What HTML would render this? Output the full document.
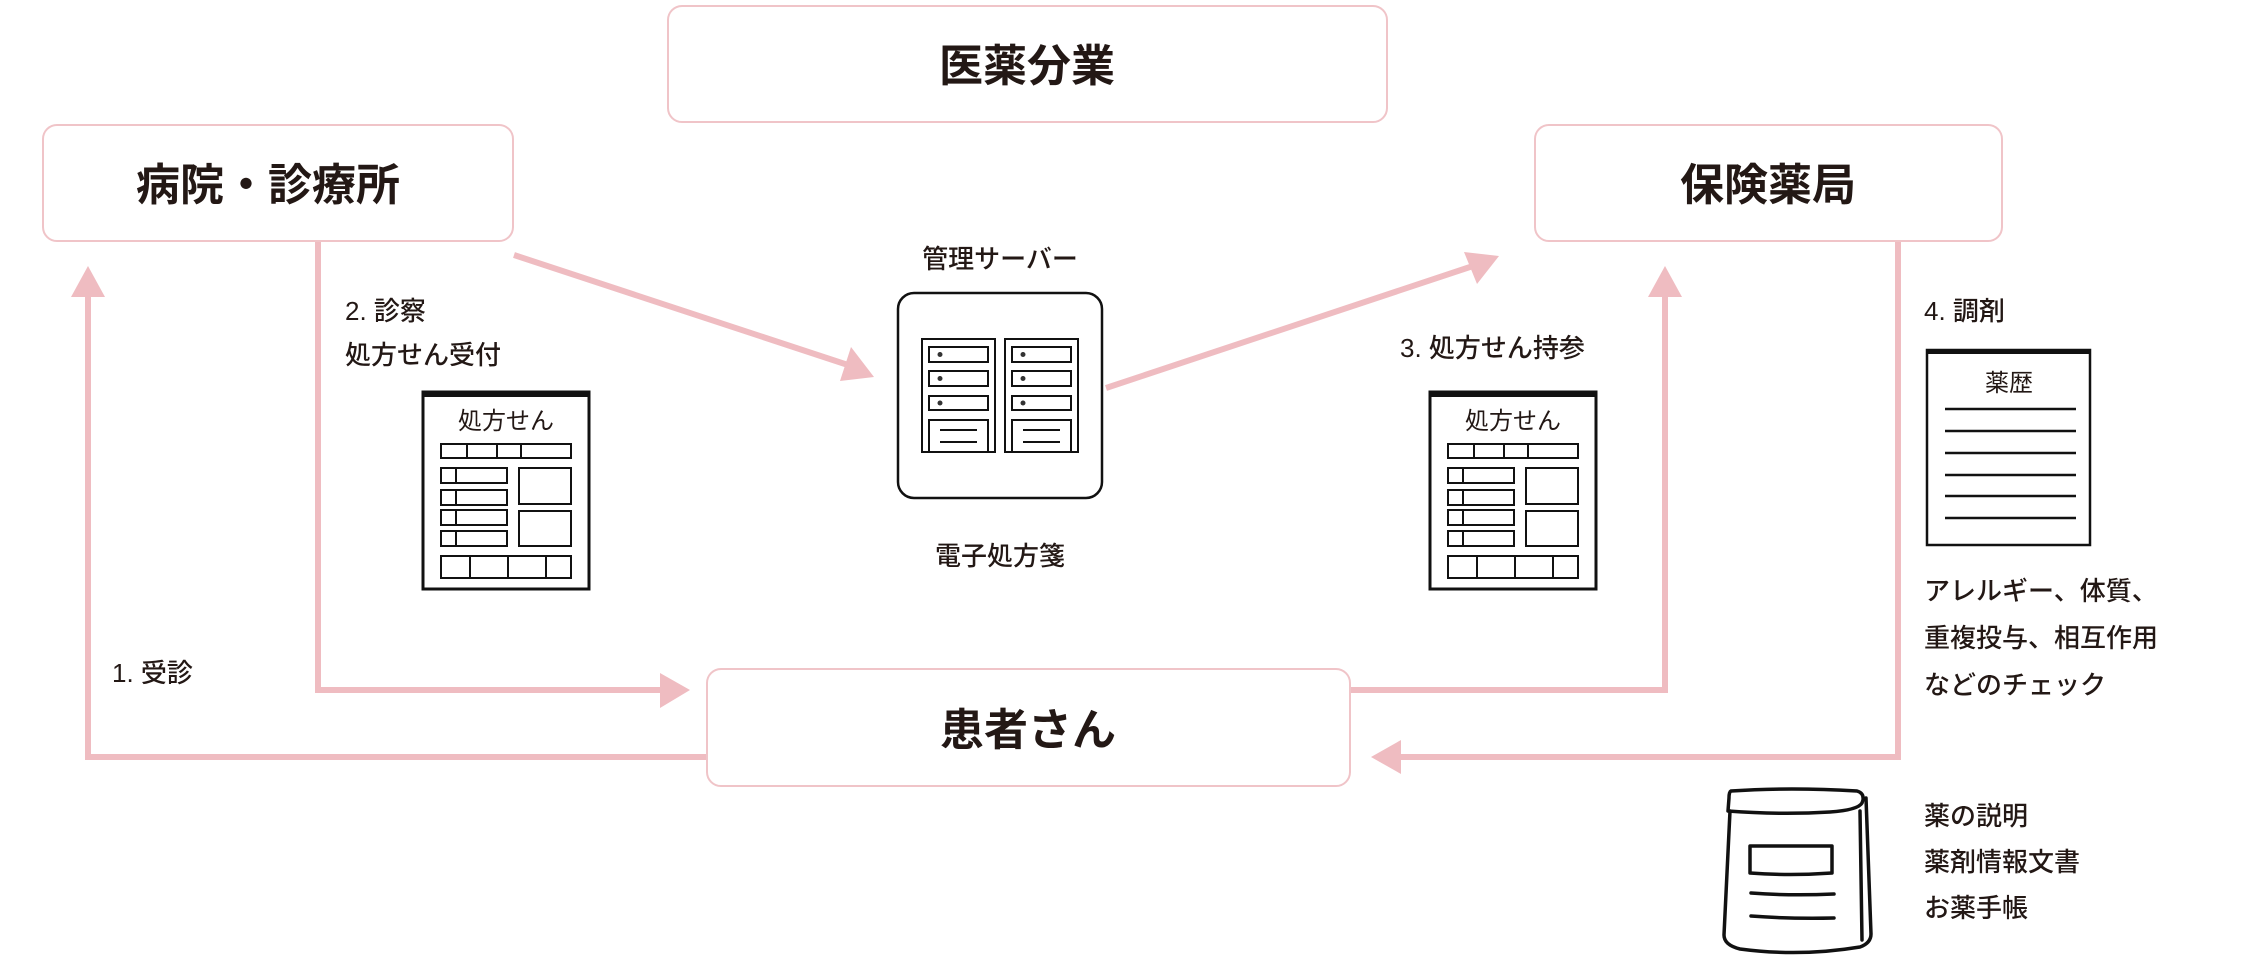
<!DOCTYPE html>
<html><head><meta charset="utf-8"><style>
html,body{margin:0;padding:0;background:#fff;}
body{width:2252px;height:956px;overflow:hidden;}
svg text{font-family:"Liberation Sans","Noto Sans CJK JP",sans-serif;fill:#231815;}
.big{font-size:44px;font-weight:bold;}
.lbl{font-size:26px;font-weight:500;}
</style></head><body>
<svg width="2252" height="956" viewBox="0 0 2252 956" xmlns="http://www.w3.org/2000/svg">
<defs>
<g id="rx">
  <rect x="0" y="0" width="166" height="197" fill="#fff" stroke="#111" stroke-width="3"/>
  <rect x="0" y="0" width="166" height="5" fill="#111"/>
  <text x="83" y="37" text-anchor="middle" style="font-size:24px">処方せん</text>
  <g fill="none" stroke="#111" stroke-width="2">
    <rect x="18" y="52" width="130" height="14"/>
    <line x1="44" y1="52" x2="44" y2="66"/><line x1="74" y1="52" x2="74" y2="66"/><line x1="98" y1="52" x2="98" y2="66"/>
    <rect x="18" y="76" width="66" height="15"/><line x1="33" y1="76" x2="33" y2="91"/>
    <rect x="18" y="98" width="66" height="15"/><line x1="33" y1="98" x2="33" y2="113"/>
    <rect x="18" y="118" width="66" height="15"/><line x1="33" y1="118" x2="33" y2="133"/>
    <rect x="18" y="139" width="66" height="15"/><line x1="33" y1="139" x2="33" y2="154"/>
    <rect x="96" y="76" width="52" height="36"/>
    <rect x="96" y="119" width="52" height="35"/>
    <rect x="18" y="164" width="130" height="22"/>
    <line x1="47" y1="164" x2="47" y2="186"/><line x1="85" y1="164" x2="85" y2="186"/><line x1="123" y1="164" x2="123" y2="186"/>
  </g>
</g>
<g id="col">
  <rect x="0" y="0" width="73" height="113" fill="none" stroke="#111" stroke-width="2"/>
  <g fill="none" stroke="#111" stroke-width="2">
    <rect x="7" y="8" width="59" height="15"/>
    <rect x="7" y="32" width="59" height="15"/>
    <rect x="7" y="57" width="59" height="14"/>
    <path d="M7 113 V81 H66 V113"/>
    <line x1="18" y1="91" x2="55" y2="91"/><line x1="18" y1="103" x2="55" y2="103"/>
  </g>
  <circle cx="18" cy="15.5" r="2.5" fill="#333"/><circle cx="18" cy="39.5" r="2.5" fill="#333"/><circle cx="18" cy="64" r="2.5" fill="#333"/>
</g>
</defs>

<!-- connectors -->
<g stroke="#efbcc1" stroke-width="6" fill="none">
  <polyline points="707,757 88,757 88,295"/>
  <polyline points="318,241 318,690 662,690"/>
  <line x1="514" y1="255" x2="848" y2="365"/>
  <polyline points="1350,690 1665,690 1665,295"/>
  <polyline points="1898,241 1898,757 1398,757"/>
  <line x1="1106" y1="388" x2="1476" y2="265"/>
</g>
<g fill="#efbcc1">
  <polygon points="88,266 71,297 105,297"/>
  <polygon points="690,690 660,673 660,708"/>
  <polygon points="874,377 840,381 851,347"/>
  <polygon points="1665,266 1648,297 1682,297"/>
  <polygon points="1371,757 1401,740 1401,774"/>
  <polygon points="1499,256 1464,252 1477,284"/>
</g>

<!-- boxes -->
<g fill="#fff" stroke="#f0c4c8" stroke-width="2">
  <rect x="668" y="6" width="719" height="116" rx="14"/>
  <rect x="43" y="125" width="470" height="116" rx="14"/>
  <rect x="1535" y="125" width="467" height="116" rx="14"/>
  <rect x="707" y="669" width="643" height="117" rx="14"/>
</g>
<text class="big" x="1027" y="81" text-anchor="middle">医薬分業</text>
<text class="big" x="268" y="200" text-anchor="middle">病院・診療所</text>
<text class="big" x="1768" y="200" text-anchor="middle">保険薬局</text>
<text class="big" x="1028" y="745" text-anchor="middle">患者さん</text>

<!-- server -->
<rect x="898" y="293" width="204" height="205" rx="16" fill="#fff" stroke="#111" stroke-width="2.5"/>
<use href="#col" x="922" y="339"/>
<use href="#col" x="1005" y="339"/>
<text class="lbl" x="1000" y="268" text-anchor="middle">管理サーバー</text>
<text class="lbl" x="1000" y="565" text-anchor="middle">電子処方箋</text>

<!-- prescriptions -->
<use href="#rx" x="423" y="392"/>
<use href="#rx" x="1430" y="392"/>

<!-- labels -->
<text class="lbl" x="345" y="320">2. 診察</text>
<text class="lbl" x="345" y="364">処方せん受付</text>
<text class="lbl" x="1400" y="357">3. 処方せん持参</text>
<text class="lbl" x="1924" y="320">4. 調剤</text>
<text class="lbl" x="112" y="682">1. 受診</text>
<text class="lbl" x="1924" y="600">アレルギー、体質、</text>
<text class="lbl" x="1924" y="647">重複投与、相互作用</text>
<text class="lbl" x="1924" y="694">などのチェック</text>
<text class="lbl" x="1924" y="825">薬の説明</text>
<text class="lbl" x="1924" y="871">薬剤情報文書</text>
<text class="lbl" x="1924" y="917">お薬手帳</text>

<!-- drug history -->
<rect x="1927" y="350" width="163" height="195" fill="#fff" stroke="#111" stroke-width="2.5"/>
<rect x="1927" y="349" width="163" height="5" fill="#111"/>
<text x="2009" y="391" text-anchor="middle" style="font-size:24px">薬歴</text>
<g stroke="#111" stroke-width="2.5">
  <line x1="1945" y1="409" x2="2076" y2="409"/><line x1="1945" y1="431" x2="2076" y2="431"/>
  <line x1="1945" y1="453" x2="2076" y2="453"/><line x1="1945" y1="475" x2="2076" y2="475"/>
  <line x1="1945" y1="496" x2="2076" y2="496"/><line x1="1945" y1="518" x2="2076" y2="518"/>
</g>

<!-- medicine bag -->
<g fill="none" stroke="#111" stroke-width="3.5" stroke-linejoin="round" stroke-linecap="round">
  <path d="M1731 791 Q1790 787 1857 791 Q1864 793 1863 800 L1862 803 Q1858 810 1830 812 Q1780 815 1728 811 L1729 798 Q1729 792 1731 791 Z"/>
  <path d="M1730 811 L1724 935 Q1724 945 1740 949 Q1800 957 1860 947 Q1871 943 1871 934 L1866 798"/>
  <path d="M1860 811 L1862 940"/>
  <path d="M1750 846 L1832 846 L1832 873 Q1790 876 1750 873 Z"/>
  <path d="M1751 893 Q1790 896 1834 894"/>
  <path d="M1751 916 Q1790 919 1834 918"/>
</g>
</svg>
</body></html>
